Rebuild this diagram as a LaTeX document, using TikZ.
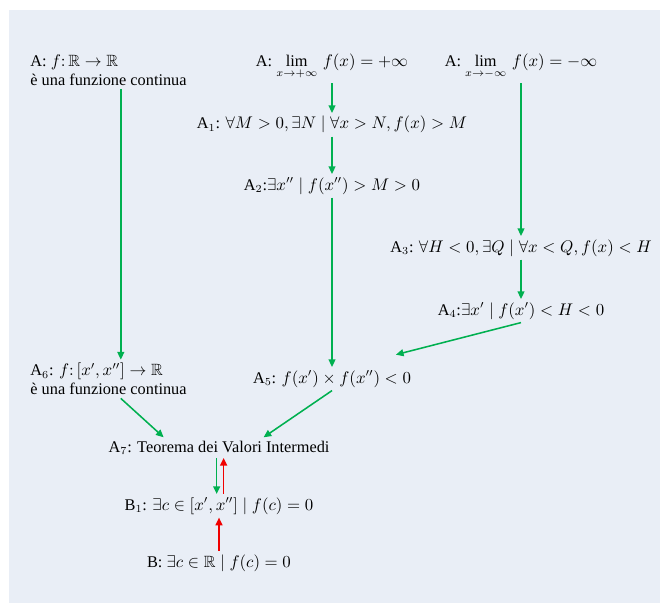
\documentclass[tikz,border=0pt]{standalone}
\usepackage{amssymb}
\usepackage{fontspec}
\setmainfont{Liberation Serif}
\usetikzlibrary{arrows.meta,positioning}
\definecolor{okgreen}{HTML}{00B050}
\definecolor{backred}{HTML}{F00000}
\definecolor{paper}{HTML}{E9EEF6}
\tikzset{
  stmt/.style={inner sep=2pt, anchor=base, font=\fontsize{10.6}{12.5}\selectfont},
  multi/.style={stmt, align=left, anchor=west},
  flow/.style={-{Triangle[length=5pt,width=4.5pt]}, okgreen, line width=1pt},
  back/.style={-{Triangle[length=5pt,width=4.5pt]}, backred, line width=1pt},
}
\newcommand{\R}{\mathbb{R}}

\begin{document}
\begin{tikzpicture}[x=0.65pt, y=-0.65pt]
    \useasboundingbox (0,0) rectangle (660,603);
    \fill[paper] (9,10) rectangle (660,603);

    % ipotesi
    \node[multi] (fR) at (27,70) {A: $f{:}\,\R\to\R$\\ è una funzione continua};
    \node[stmt] (limp) at (332,67) {A: $\lim\limits_{x\to+\infty}\, f(x)=+\infty$};
    \node[stmt] (limm) at (521,67) {A: $\lim\limits_{x\to-\infty}\, f(x)=-\infty$};

    \node[stmt] (A1) at (332,129) {A$_1$: $\forall M>0,\exists N\mid\forall x>N, f(x)>M$};
    \node[stmt] (A2) at (332,190) {A$_2$:$\exists x''\mid f(x'')>M>0$};
    \node[stmt] (A3) at (521,252) {A$_3$: $\forall H<0,\exists Q\mid\forall x<Q, f(x)<H$};
    \node[stmt] (A4) at (521,315) {A$_4$:$\exists x'\mid f(x')<H<0$};
    \node[stmt] (A5) at (332,383) {A$_5$: $f(x')\times f(x'')<0$};
    \node[multi] (A6) at (27,379) {A$_6$: $f{:}\,[x',x'']\to\R$\\ è una funzione continua};

    % tesi
    \node[stmt] (A7) at (219,452) {A$_7$: Teorema dei Valori Intermedi};
    \node[stmt] (B1) at (219,510) {B$_1$: $\exists c\in[x',x'']\mid f(c)=0$};
    \node[stmt] (B) at (219,567) {B: $\exists c\in\R\mid f(c)=0$};

    \draw[flow] ([xshift=8pt]fR.south) -- ([xshift=8pt]A6.north);
    \draw[flow] (limp) -- (A1);
    \draw[flow] (A1) -- (A2);
    \draw[flow] (A2) -- (A5);
    \draw[flow] (limm) -- (A3);
    \draw[flow] (A3) -- (A4);
    \draw[flow] (A4.south) -- ([xshift=-12pt, yshift=8pt]A5.north east);
    \draw[flow] ([xshift=8pt]A6.south) -- ([xshift=38pt]A7.north west);
    \draw[flow] (A5.south) -- ([xshift=-45pt]A7.north east);
    \draw[flow] ([xshift=-1.5pt]A7.south) -- ([xshift=-1.5pt]B1.north);
    \draw[back] ([xshift=3pt]B1.north) -- ([xshift=3pt]A7.south);
    \draw[back] (B) -- (B1);
\end{tikzpicture}
\end{document}
